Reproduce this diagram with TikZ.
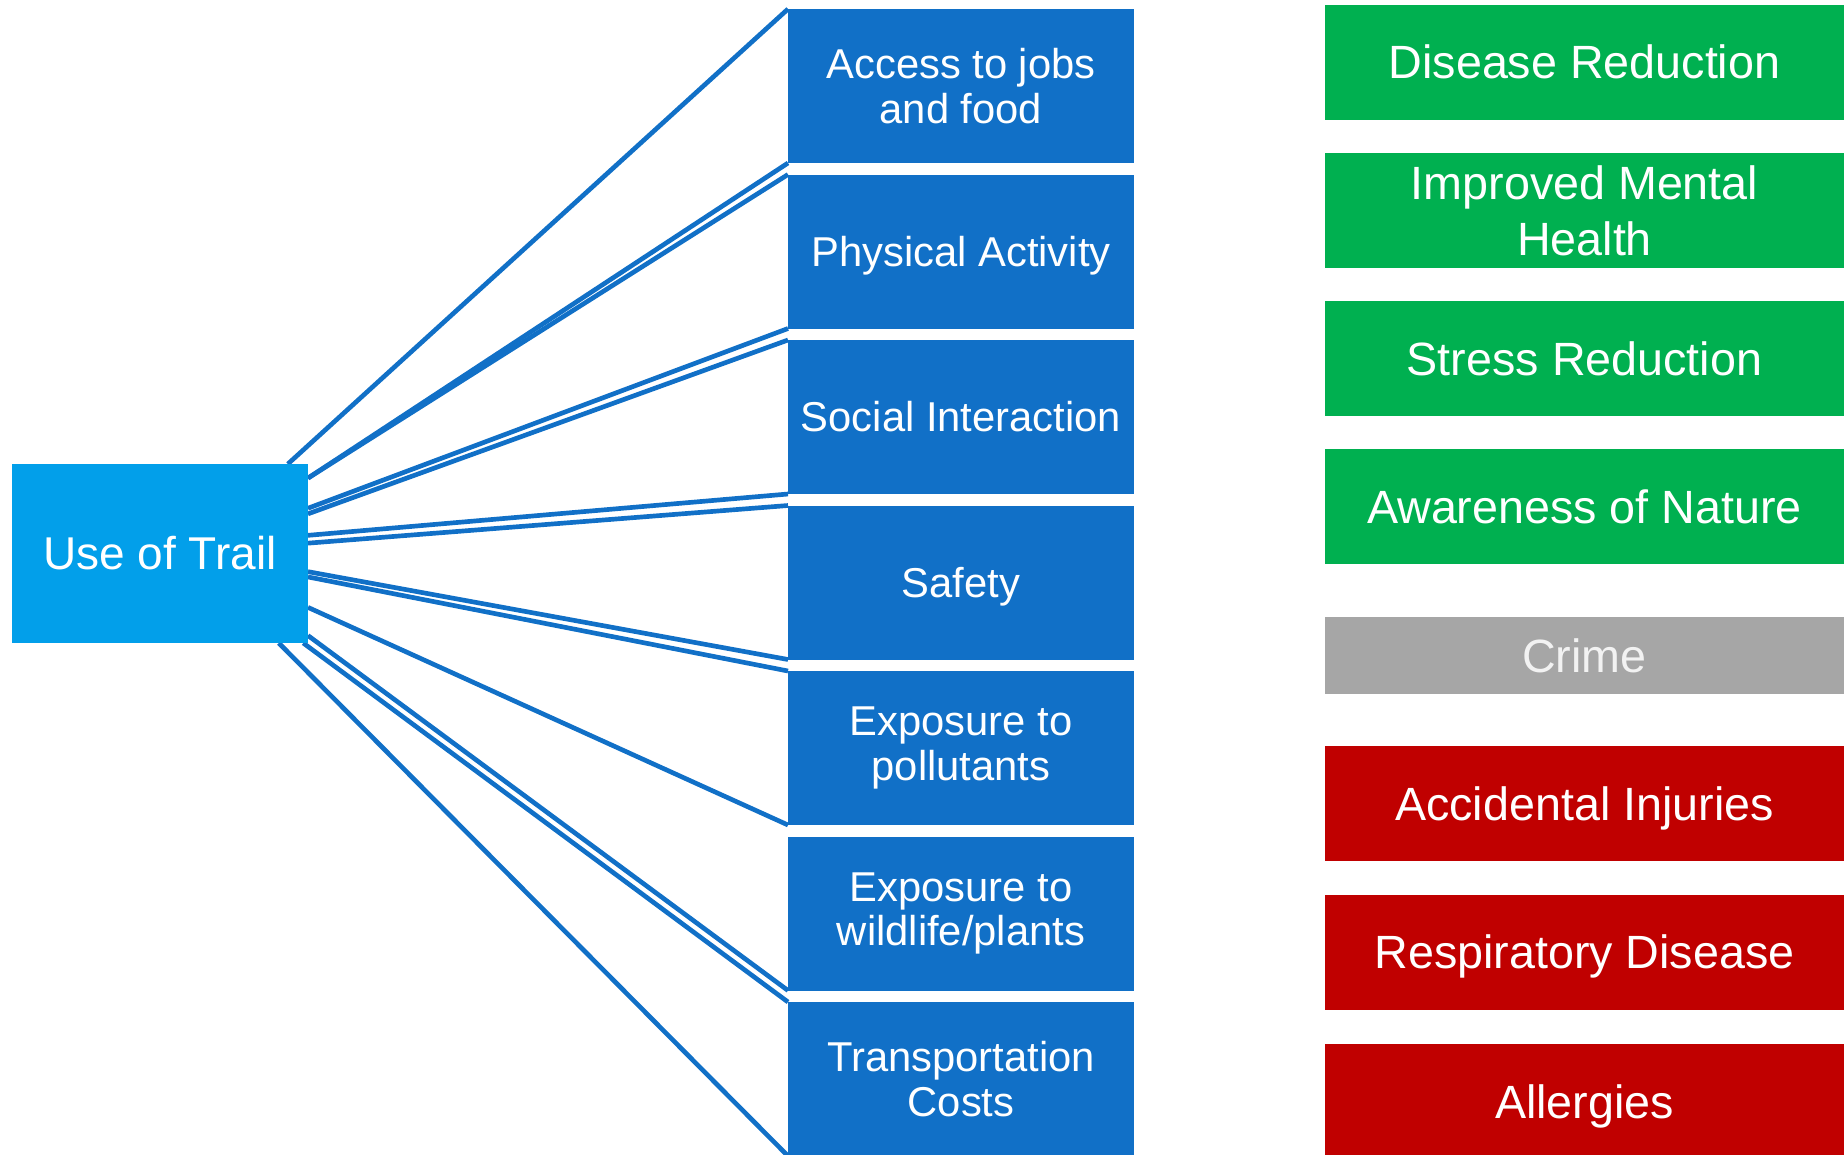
\documentclass[tikz,border=0pt]{standalone}
\usepackage{fontspec}
\setmainfont{Liberation Sans}
\usetikzlibrary{backgrounds}

\definecolor{trailblue}{RGB}{2,159,234}
\definecolor{pathblue}{RGB}{17,112,199}
\definecolor{goodgreen}{RGB}{0,176,80}
\definecolor{badred}{RGB}{192,0,0}
\definecolor{neutralgray}{RGB}{166,166,166}

\tikzset{every picture/.style={line width=0.75pt}}
\tikzset{
  usebox/.style={fill=trailblue, text=white, inner sep=0pt, outer sep=0pt,
    minimum width=222pt, minimum height=134.25pt, text height=24.7pt, text depth=0pt,
    font=\fontsize{34.5}{40}\selectfont},
  pathbox/.style={fill=pathblue, text=white, inner sep=0pt, outer sep=0pt, align=center,
    minimum width=259.5pt, minimum height=115.5pt, font=\fontsize{31.3}{33.5}\selectfont},
  outbox/.style={text=white, inner sep=0pt, outer sep=0pt, align=center,
    minimum width=389.25pt, minimum height=86.25pt, font=\fontsize{35}{42}\selectfont},
  oneline/.style={text height=#1, text depth=0pt},
  link/.style={draw=pathblue, line width=3.5pt}
}

\begin{document}
\begin{tikzpicture}[x=0.75pt,y=0.75pt,yscale=-1,xscale=1]
\useasboundingbox (0,0) rectangle (1844,1154);

%Shape: Rectangle [use of trail]
\node[usebox] (use) at (160,553.5) {Use of Trail};

%Shape: Rectangle [pathways]
\node[pathbox] (access) at (961,86) {Access to jobs\\and food};
\node[pathbox, oneline=22.4pt] (phys) at (961,251.5) {Physical Activity};
\node[pathbox, oneline=22.4pt] (social) at (961,417) {Social Interaction};
\node[pathbox, oneline=22.4pt] (safety) at (961,582.5) {Safety};
\node[pathbox] (poll) at (961,748) {Exposure to\\pollutants};
\node[pathbox] (wild) at (961,913.5) {Exposure to\\wildlife/plants};
\node[pathbox] (trans) at (961,1079) {Transportation\\Costs};

%Shape: Rectangle [outcomes]
\node[outbox, oneline=25pt, fill=goodgreen] (disease) at (1584.5,62) {Disease Reduction};
\node[outbox, fill=goodgreen] (mental) at (1584.5,210.5) {Improved Mental\\Health};
\node[outbox, oneline=25pt, fill=goodgreen] (stress) at (1584.5,358.5) {Stress Reduction};
\node[outbox, oneline=25pt, fill=goodgreen] (nature) at (1584.5,506.5) {Awareness of Nature};
\node[outbox, oneline=25pt, fill=neutralgray, minimum height=57.75pt, text=white!95!black] (crime) at (1584.5,655.5) {Crime};
\node[outbox, oneline=25pt, fill=badred] (injury) at (1584.5,803.5) {Accidental Injuries};
\node[outbox, oneline=25pt, fill=badred] (resp) at (1584.5,952) {Respiratory Disease};
\node[outbox, oneline=25pt, fill=badred] (allergy) at (1584.5,1101.5) {Allergies};

%Straight Lines
\begin{scope}[on background layer]
\draw[link] (use.35) -- (access.north west);
\draw[link] (use.27.6) -- (access.south west);
\draw[link] (use.27.6) -- (phys.north west);
\draw[link] (use.17.8) -- (phys.south west);
\draw[link] (use.15.7) -- (social.north west);
\draw[link] (use.7.1) -- (social.south west);
\draw[link] (use.4.8) -- (safety.north west);
\draw[link] (use.-7.5) -- (safety.south west);
\draw[link] (use.-9.8) -- (poll.north west);
\draw[link] (use.-20.6) -- (poll.south west);
\draw[link] (use.-29.4) -- (wild.south west);
\draw[link] (use.-32.6) -- (trans.north west);
\draw[link] (use.-37.7) -- (trans.south west);
\end{scope}

\end{tikzpicture}
\end{document}
